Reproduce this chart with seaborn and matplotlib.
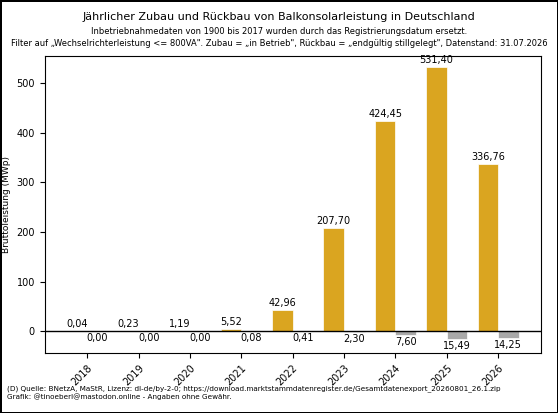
import matplotlib
matplotlib.use("Agg")
import matplotlib.pyplot as plt
import seaborn as sns
import pandas as pd

years = ["2018","2019","2020","2021","2022","2023","2024","2025","2026"]
zubau = [0.04,0.23,1.19,5.52,42.96,207.70,424.45,531.40,336.76]
rueckbau = [0.00,0.00,0.00,0.08,0.41,2.30,7.60,15.49,14.25]

df = pd.DataFrame({"Jahr": years*2,
                   "Wert": zubau + [-v for v in rueckbau],
                   "Art": ["Zubau"]*len(years) + ["Rückbau"]*len(years)})

fig = plt.figure(figsize=(5.58,4.13), dpi=100, linewidth=2, edgecolor="black")
ax = fig.add_axes([0.08,0.145,0.889,0.72])
sns.barplot(data=df, x="Jahr", y="Wert", hue="Art", palette={"Zubau":"#DAA520","Rückbau":"#A9A9A9"},
            dodge=True, width=0.8, ax=ax, legend=False, edgecolor="white", linewidth=0.5, saturation=1)
ax.axhline(0, color="black", linewidth=1)
ax.set_ylim(-44, 555)
ax.set_xlim(-0.83, 8.83)
ax.set_xlabel("")
ax.set_ylabel("Bruttoleistung (MWp)", fontsize=6.5)
ax.tick_params(labelsize=7)
plt.setp(ax.get_xticklabels(), rotation=45, ha="right", rotation_mode="anchor")
for i,(z,r) in enumerate(zip(zubau,rueckbau)):
    ax.text(i-0.2, z+4, f"{z:.2f}".replace(".",","), ha="center", va="bottom", fontsize=7)
    ax.text(i+0.2, -r-4, f"{r:.2f}".replace(".",","), ha="center", va="top", fontsize=7)
fig.text(0.5, 0.952, "Jährlicher Zubau und Rückbau von Balkonsolarleistung in Deutschland", ha="center", fontsize=8)
fig.text(0.5, 0.917, "Inbetriebnahmedaten von 1900 bis 2017 wurden durch das Registrierungsdatum ersetzt.", ha="center", fontsize=6)
fig.text(0.5, 0.889, "Filter auf „Wechselrichterleistung <= 800VA\". Zubau = „in Betrieb\", Rückbau = „endgültig stillgelegt\", Datenstand: 31.07.2026", ha="center", fontsize=6)
fig.text(0.012, 0.05, "(D) Quelle: BNetzA, MaStR, Lizenz: dl-de/by-2-0; https://download.marktstammdatenregister.de/Gesamtdatenexport_20260801_26.1.zip\nGrafik: @tinoeberl@mastodon.online - Angaben ohne Gewähr.", fontsize=5.2, va="center")
fig.savefig("out.png", dpi=100, edgecolor=fig.get_edgecolor())
